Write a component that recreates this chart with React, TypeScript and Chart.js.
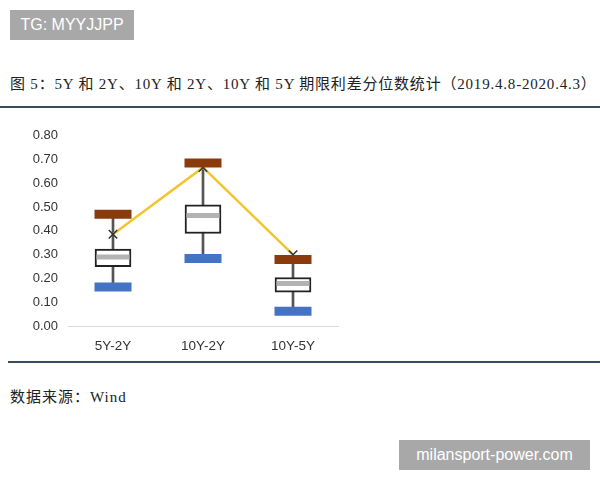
import React, { useEffect, useRef } from 'react';
import { Chart, registerables } from 'chart.js';

Chart.register(...registerables);

const categories = ['5Y-2Y', '10Y-2Y', '10Y-5Y'];
const maxValues = [0.47, 0.686, 0.28];
const q3Values = [0.324, 0.51, 0.204];
const medianValues = [0.29, 0.465, 0.179];
const q1Values = [0.25, 0.389, 0.142];
const minValues = [0.164, 0.284, 0.062];
const meanValues = [0.386, 0.667, 0.3];
const yTicks = [0, 0.1, 0.2, 0.3, 0.4, 0.5, 0.6, 0.7, 0.8];

const BoxChart: React.FC = () => {
  const canvasRef = useRef<HTMLCanvasElement>(null);
  const chartRef = useRef<Chart>();

  useEffect(() => {
    if (!canvasRef.current) return;
    const ctx = canvasRef.current.getContext('2d');
    if (!ctx) return;

    const markerBase = {
      type: 'line' as const,
      showLine: false,
      pointStyle: 'line' as const,
    };

    chartRef.current = new Chart(ctx, {
      type: 'bar',
      data: {
        labels: categories,
        datasets: [
          {
            ...markerBase,
            label: 'max',
            data: maxValues,
            borderColor: '#8b3a0c',
            pointBorderColor: '#8b3a0c',
            pointRadius: 18.5,
            pointBorderWidth: 9,
            order: 1,
          } as any,
          {
            ...markerBase,
            label: 'min',
            data: minValues,
            borderColor: '#4472c4',
            pointBorderColor: '#4472c4',
            pointRadius: 18.5,
            pointBorderWidth: 9,
            order: 1,
          } as any,
          {
            type: 'line',
            label: 'mean',
            data: meanValues,
            borderColor: '#f2c52e',
            borderWidth: 2.5,
            pointStyle: 'crossRot',
            pointRadius: 6,
            pointBorderColor: '#333333',
            pointBorderWidth: 1.5,
            order: 2,
          } as any,
          {
            ...markerBase,
            label: 'median',
            data: medianValues,
            borderColor: '#b3b3b3',
            pointBorderColor: '#b3b3b3',
            pointRadius: 16.5,
            pointBorderWidth: 5,
            order: 3,
          } as any,
          {
            label: 'box',
            data: q1Values.map((v, i) => [v, q3Values[i]]),
            backgroundColor: '#ffffff',
            borderColor: '#222222',
            borderWidth: 2,
            borderSkipped: false,
            barThickness: 36,
            order: 4,
          } as any,
          {
            label: 'whisker',
            data: minValues.map((v, i) => [v, maxValues[i]]),
            backgroundColor: '#555555',
            borderWidth: 0,
            barThickness: 2,
            order: 5,
          } as any,
        ],
      },
      options: {
        animation: false,
        responsive: true,
        maintainAspectRatio: false,
        layout: { autoPadding: false, padding: { top: 14, right: 2, left: 0, bottom: 0 } },
        plugins: {
          legend: { display: false },
          tooltip: { enabled: false },
        },
        datasets: { bar: { grouped: false } },
        scales: {
          x: {
            grid: { display: false, drawTicks: false },
            border: { display: true, color: '#d9d9d9', width: 1 },
            ticks: {
              padding: 12,
              color: '#333333',
              font: { family: 'Liberation Sans, Arial, sans-serif', size: 13.5 },
            },
            afterFit: (s: any) => {
              s.height = 34;
            },
          },
          y: {
            min: 0,
            max: 0.8,
            grid: { display: false, drawTicks: false },
            border: { display: false },
            afterBuildTicks: (s: any) => {
              s.ticks = yTicks.map(v => ({ value: v }));
            },
            ticks: {
              padding: 10,
              color: '#333333',
              font: { family: 'Liberation Sans, Arial, sans-serif', size: 13 },
              callback: (v: any) => Number(v).toFixed(2),
            },
            afterFit: (s: any) => {
              s.width = 68;
            },
          },
        },
      },
    });

    return () => {
      chartRef.current?.destroy();
    };
  }, []);

  return <canvas ref={canvasRef} />;
};

const tagStyle: React.CSSProperties = {
  position: 'absolute',
  background: '#a8a8a8',
  color: '#ffffff',
  fontFamily: 'Liberation Sans, Arial, sans-serif',
  fontSize: 16,
  display: 'flex',
  alignItems: 'center',
  justifyContent: 'center',
};

const textFont = '"Liberation Serif", "Noto Sans CJK SC", serif';

const App: React.FC = () => {
  return (
    <div
      style={{
        position: 'absolute',
        left: 0,
        top: 0,
        width: 600,
        height: 480,
        background: '#ffffff',
        overflow: 'hidden',
      }}
    >
      <div style={{ ...tagStyle, left: 10, top: 10, width: 124, height: 30 }}>TG: MYYJJPP</div>
      <div
        style={{
          position: 'absolute',
          left: 10,
          top: 72,
          fontFamily: textFont,
          fontSize: 15,
          letterSpacing: 0.8,
          color: '#222222',
          whiteSpace: 'nowrap',
        }}
      >
        图 5：5Y 和 2Y、10Y 和 2Y、10Y 和 5Y 期限利差分位数统计（2019.4.8-2020.4.3）
      </div>
      <div style={{ position: 'absolute', left: 0, top: 106, width: 600, height: 1.5, background: '#3c4b5c' }} />
      <div style={{ position: 'absolute', left: 0, top: 118, width: 340, height: 242 }}>
        <BoxChart />
      </div>
      <div style={{ position: 'absolute', left: 8, top: 361, width: 592, height: 2, background: '#3c4b5c' }} />
      <div
        style={{
          position: 'absolute',
          left: 10,
          top: 385,
          fontFamily: textFont,
          fontSize: 15,
          letterSpacing: 1,
          color: '#222222',
        }}
      >
        数据来源：Wind
      </div>
      <div style={{ ...tagStyle, left: 399, top: 440, width: 191, height: 30 }}>milansport-power.com</div>
    </div>
  );
};

export default App;
